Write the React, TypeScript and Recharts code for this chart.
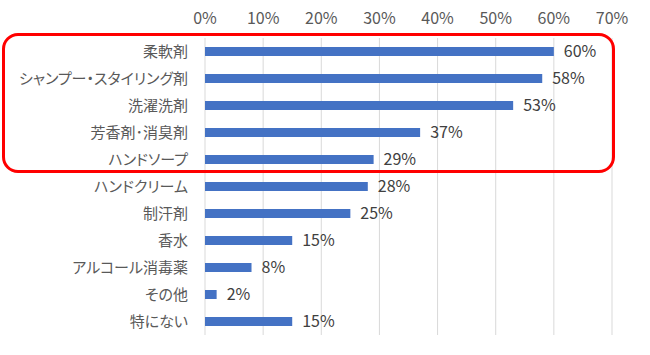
import { Bar, BarChart, CartesianGrid, LabelList, XAxis, YAxis } from "recharts";

const CATEGORIES = [
  "柔軟剤",
  "シャンプー・スタイリング剤",
  "洗濯洗剤",
  "芳香剤･消臭剤",
  "ハンドソープ",
  "ハンドクリーム",
  "制汗剤",
  "香水",
  "アルコール消毒薬",
  "その他",
  "特にない",
];
const VALUES = [0.6, 0.58, 0.53, 0.37, 0.29, 0.28, 0.25, 0.15, 0.08, 0.02, 0.15];
const TICKS = [0, 0.1, 0.2, 0.3, 0.4, 0.5, 0.6, 0.7];

const data = CATEGORIES.map((name, i) => ({ name, value: VALUES[i] }));
const pct = (v: number) => `${Math.round(v * 100)}%`;
const FONT = '"Noto Sans CJK JP", "Noto Sans", sans-serif';

export default function App() {
  return (
    <div style={{ position: "absolute", left: 0, top: 0, width: 650, height: 355, background: "#fff", fontFamily: FONT }}>
      <BarChart
        width={650}
        height={355}
        data={data}
        layout="vertical"
        margin={{ top: 0, right: 38, left: 0, bottom: 20 }}
      >
        <CartesianGrid horizontal={false} stroke="#d9d9d9" />
        <XAxis
          type="number"
          orientation="top"
          domain={[0, 0.7]}
          ticks={TICKS}
          tickFormatter={pct}
          height={38}
          axisLine={false}
          tickLine={false}
          tickSize={0}
          tickMargin={14}
          tick={{ fontSize: 16, fill: "#595959", fontFamily: FONT }}
        />
        <YAxis
          type="category"
          dataKey="name"
          width={205}
          axisLine={false}
          tickLine={false}
          tickSize={0}
          tickMargin={17}
          interval={0}
          tick={{ fontSize: 15, fill: "#595959", fontFamily: FONT, style: { fontFeatureSettings: '"palt"' } } as any}
        />
        <Bar dataKey="value" fill="#4472C4" barSize={9} isAnimationActive={false}>
          <LabelList
            dataKey="value"
            position="right"
            offset={10}
            formatter={(v: any) => pct(Number(v))}
            style={{ fontSize: 16, fill: "#404040", fontFamily: FONT }}
          />
        </Bar>
      </BarChart>
      <div
        style={{
          position: "absolute",
          left: 2,
          top: 33,
          width: 607,
          height: 134,
          border: "3px solid #ff0000",
          borderRadius: 16,
          pointerEvents: "none",
        }}
      />
    </div>
  );
}
